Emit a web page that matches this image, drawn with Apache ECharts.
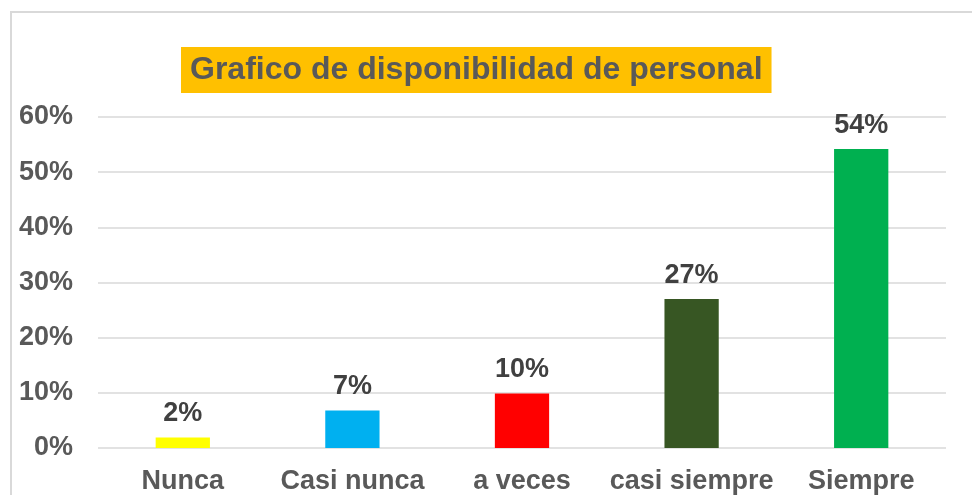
<!DOCTYPE html>
<html lang="es">
<head>
    <meta charset="UTF-8">
    <title>Grafico de disponibilidad de personal</title>
    <script src="https://cdn.jsdelivr.net/npm/echarts@6.0.0/dist/echarts.min.js"></script>
    <style>
        body { margin: 0; background: #fff; }
    </style>
</head>
<body>
    <div id="main" style="width: 972px;height:495px;"></div>

    <script type="text/javascript">
        // Data
        const categories = ['Nunca', 'Casi nunca', 'a veces', 'casi siempre', 'Siempre'];
        const values = [1.9, 6.8, 9.9, 27.0, 54.2];
        const barColors = ['#FFFF00', '#00B0F0', '#FF0000', '#375623', '#00B050'];

        const font = 'Arial, "Liberation Sans", sans-serif';
        let myChart = echarts.init(document.getElementById('main'));

        let options = {
            backgroundColor: '#fff',
            title: {
                text: 'Grafico de disponibilidad de personal',
                left: 181,
                top: 47,
                padding: [7, 9, 7, 9],
                backgroundColor: '#FFC000',
                textStyle: { fontFamily: font, fontSize: 32, fontWeight: 'bold', color: '#595959' }
            },
            graphic: [{
                type: 'rect',
                z: -1,
                shape: { x: 11, y: 12, width: 1000, height: 1000 },
                style: { fill: null, stroke: '#D9D9D9', lineWidth: 2 }
            }],
            grid: { left: 98, right: 26, top: 117, bottom: 47 },
            xAxis: {
                type: 'category',
                data: categories,
                axisLine: { show: false },
                axisTick: { show: false },
                axisLabel: {
                    interval: 0,
                    hideOverlap: false,
                    margin: 20,
                    fontFamily: font, fontSize: 27, fontWeight: 'bold', color: '#595959'
                }
            },
            yAxis: {
                type: 'value',
                min: 0,
                max: 60,
                interval: 10,
                axisLabel: { formatter: '{value}%', margin: 25, fontFamily: font, fontSize: 27, fontWeight: 'bold', color: '#595959' },
                splitLine: { lineStyle: { color: '#D9D9D9', width: 1.5 } }
            },
            series: [{
                type: 'bar',
                barWidth: '32%',
                data: values.map((v, i) => ({ value: v, itemStyle: { color: barColors[i] } })),
                label: {
                    show: true,
                    position: 'top',
                    distance: 10,
                    formatter: p => Math.round(p.value) + '%',
                    fontFamily: font, fontSize: 27, fontWeight: 'bold', color: '#404040'
                }
            }]
        };

        myChart.setOption(options);
    </script>
</body>
</html>
